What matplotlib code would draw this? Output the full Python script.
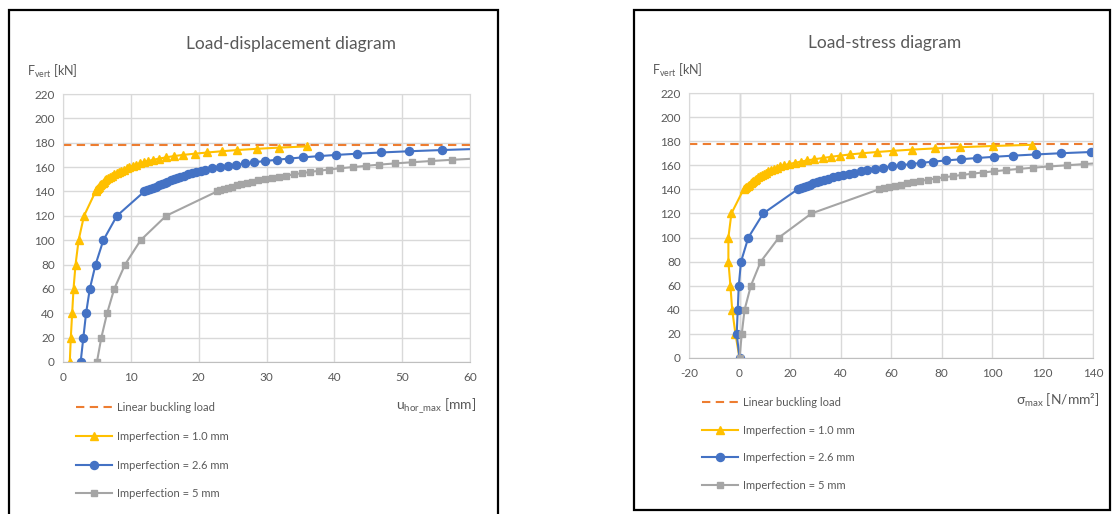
import matplotlib
matplotlib.use("Agg")
import matplotlib.pyplot as plt
from matplotlib.patches import Rectangle

plt.rcParams['font.family'] = ['Lato', 'DejaVu Sans']
plt.rcParams['mathtext.fontset'] = 'custom'
plt.rcParams['mathtext.rm'] = 'Lato'
plt.rcParams['axes.unicode_minus'] = False

# ---- load steps [kN] -------------------------------------------------------
F_10 = [0, 20, 40, 60, 80, 100, 120, 140, 141, 142, 143, 144, 145, 146, 147, 148,
        149, 150, 151, 152, 153, 154, 155, 156, 157, 158, 159, 160, 161, 162, 163,
        164, 165, 166, 167, 168, 169, 170, 171, 172, 173, 174, 175, 176, 177]
F_26 = [0, 20, 40, 60, 80, 100, 120, 140, 141, 142, 143, 144, 145, 146, 147, 148,
        149, 150, 151, 152, 153, 154, 155, 156, 157, 158, 159, 160, 161, 162, 163,
        164, 165, 166, 167, 168, 169, 170, 171, 172, 173, 174, 175]
F_50 = [0, 20, 40, 60, 80, 100, 120, 140, 141, 142, 143, 144, 145, 146, 147, 148,
        149, 150, 151, 152, 153, 154, 155, 156, 157, 158, 159, 160, 161, 162, 163,
        164, 165, 166, 167]

# ---- horizontal displacement u_hor_max [mm] --------------------------------
u_10 = [1.0, 1.15, 1.35, 1.55, 1.85, 2.3, 3.1, 4.8, 4.9, 5.05, 5.2, 5.35, 5.5, 5.65,
        5.85, 6.0, 6.2, 6.4, 6.65, 6.9, 7.2, 7.55, 7.9, 8.25, 8.6, 9.0, 9.4, 9.8,
        10.3, 10.8, 11.3, 11.9, 12.5, 13.3, 14.2, 15.2, 16.3, 17.7, 19.4, 21.3,
        23.4, 25.7, 28.6, 31.9, 36.0]
u_26 = [2.6, 3.0, 3.4, 3.95, 4.8, 5.95, 7.95, 12.0, 12.4, 12.8, 13.2, 13.7, 14.1,
        14.6, 15.0, 15.4, 15.85, 16.3, 16.8, 17.3, 17.8, 18.4, 19.0, 19.6, 20.3,
        21.0, 22.0, 23.1, 24.3, 25.5, 26.8, 28.2, 29.8, 31.5, 33.3, 35.4, 37.7,
        40.3, 43.4, 46.9, 51.0, 55.9, 61.5]
u_50 = [5.0, 5.65, 6.5, 7.55, 9.15, 11.45, 15.2, 22.7, 23.2, 23.7, 24.3, 24.9, 25.6,
        26.3, 27.1, 27.9, 28.8, 29.8, 30.8, 31.8, 32.9, 34.0, 35.2, 36.4, 37.8,
        39.2, 40.8, 42.7, 44.6, 46.6, 48.9, 51.5, 54.3, 57.4, 60.8]

# ---- load steps for the stress diagram [kN] --------------------------------
Fs_10 = F_10
Fs_26 = [0, 20, 40, 60, 80, 100, 120, 140, 141, 142, 143, 144, 145, 146, 147, 148,
         149, 150, 151, 152, 153, 154, 155, 156, 157, 158, 159, 160, 161, 162, 163,
         164, 165, 166, 167, 168, 169, 170, 171, 172]
Fs_50 = [0, 20, 40, 60, 80, 100, 120, 140, 141, 142, 143, 144, 145, 146, 147, 148,
         149, 150, 151, 152, 153, 154, 155, 156, 157, 158, 159, 160, 161, 162]

# ---- max stress sigma_max [N/mm2] ------------------------------------------
s_10 = [0.0, -1.6, -2.9, -3.6, -4.4, -4.4, -3.2, 1.6, 2.1, 2.7, 3.2, 3.8, 4.4, 4.9,
        5.5, 6.1, 6.7, 7.4, 8.1, 8.8, 9.6, 10.5, 11.4, 12.4, 13.5, 14.7, 16.1,
        17.7, 19.6, 21.8, 24.2, 26.8, 29.6, 32.9, 36.2, 39.8, 43.8, 48.7, 54.4,
        60.9, 68.3, 77.4, 87.5, 100.3, 116.0]
s_26 = [0.0, -1.1, -0.7, -0.3, 0.6, 3.5, 9.4, 23.0, 24.3, 25.5, 26.7, 27.9, 29.2,
        30.5, 32.0, 33.5, 35.2, 37.0, 39.0, 41.0, 43.2, 45.5, 48.0, 50.6, 53.7,
        56.7, 60.3, 63.8, 67.8, 72.0, 76.6, 81.9, 87.6, 93.9, 100.6, 108.4, 117.5,
        127.3, 139.1, 152.0]
s_50 = [0.0, 0.9, 2.0, 4.5, 8.4, 15.6, 28.5, 55.2, 57.2, 59.4, 61.6, 63.8, 66.2,
        68.8, 71.6, 74.6, 77.8, 81.0, 84.6, 88.2, 92.1, 96.3, 100.8, 105.5, 110.8,
        116.4, 122.7, 129.6, 136.6, 144.0]

F_cr = 178.0  # linear buckling load [kN]

labels = ["Linear buckling load", "Imperfection = 1.0 mm",
          "Imperfection = 2.6 mm", "Imperfection = 5 mm"]

C_LIN, C_10, C_26, C_50 = "#ED7D31", "#FFC000", "#4472C4", "#A5A5A5"
TXT = "#595959"
GRID = "#D9D9D9"

W, H = 1112, 514
fig = plt.figure(figsize=(W / 100, H / 100), dpi=100)


def fx(px):
    return px / W


def fy(py):
    return 1 - py / H


def style_axes(ax):
    ax.grid(True, color=GRID, linewidth=1.0)
    ax.set_axisbelow(True)
    for sp in ax.spines.values():
        sp.set_color(GRID)
    ax.spines["bottom"].set_color("#BFBFBF")
    ax.tick_params(length=0, colors=TXT, labelsize=8.5)
    ax.tick_params(axis="y", pad=6)
    ax.tick_params(axis="x", pad=7)


def draw_series(ax, xs, lo):
    x10, x26, x50 = xs
    f10, f26, f50 = lo
    h0, = ax.plot(ax.get_xlim(), [F_cr, F_cr], color=C_LIN, lw=1.5,
                  dashes=(4, 2.6), label=labels[0])
    h1, = ax.plot(x10, f10, color=C_10, lw=1.5, marker="^", ms=5.8,
                  label=labels[1])
    h2, = ax.plot(x26, f26, color=C_26, lw=1.5, marker="o", ms=5.8,
                  label=labels[2])
    h3, = ax.plot(x50, f50, color=C_50, lw=1.5, marker="s", ms=5.0,
                  label=labels[3])
    return [h0, h1, h2, h3]


LEG = dict(bbox_transform=fig.transFigure, frameon=False, fontsize=8,
           borderpad=0, borderaxespad=0, handlelength=3.2, handletextpad=0.5,
           labelcolor=TXT, loc="upper left")

# ---- left: load-displacement -----------------------------------------------
ax1 = fig.add_axes([fx(63), fy(362), fx(470 - 63), (362 - 94) / H])
ax1.set_xlim(0, 60)
ax1.set_ylim(0, 220)
ax1.set_xticks(range(0, 61, 10))
ax1.set_yticks(range(0, 221, 20))
style_axes(ax1)
hs = draw_series(ax1, (u_10, u_26, u_50), (F_10, F_26, F_50))
ax1.set_xlim(0, 60)
ax1.legend(hs, labels, bbox_to_anchor=(fx(76), fy(402)), labelspacing=1.6,
           **LEG)

fig.text(fx(291), fy(44), "Load-displacement diagram", ha="center",
         va="center", fontsize=12.5, color=TXT)
fig.text(fx(27), fy(71), r"$\mathregular{F_{vert}}$ [kN]", ha="left",
         va="center", fontsize=9, color=TXT)
fig.text(fx(476), fy(406), r"$\mathregular{u_{hor\_max}}$ [mm]", ha="right",
         va="center", fontsize=10, color=TXT)

# ---- right: load-stress ----------------------------------------------------
ax2 = fig.add_axes([fx(689), fy(358), fx(1093 - 689), (358 - 93) / H])
ax2.set_xlim(-20, 140)
ax2.set_ylim(0, 220)
ax2.set_xticks(range(-20, 141, 20))
ax2.set_yticks(range(0, 221, 20))
style_axes(ax2)
hs = draw_series(ax2, (s_10, s_26, s_50), (Fs_10, Fs_26, Fs_50))
ax2.set_xlim(-20, 140)
ax2.axvline(0, color="#BFBFBF", lw=1.0, zorder=0.5)
ax2.legend(hs, labels, bbox_to_anchor=(fx(702), fy(397)), labelspacing=1.5,
           **LEG)

fig.text(fx(885), fy(43), "Load-stress diagram", ha="center", va="center",
         fontsize=12.5, color=TXT)
fig.text(fx(652), fy(70), r"$\mathregular{F_{vert}}$ [kN]", ha="left",
         va="center", fontsize=9, color=TXT)
fig.text(fx(1100), fy(400), "σ" + r"$\mathregular{_{max}}$ [N/mm²]",
         ha="right", va="center", fontsize=10, color=TXT)

# ---- panel frames ----------------------------------------------------------
fig.patches.append(Rectangle((fx(9), -0.05), fx(498 - 9), fy(10) + 0.05,
                             transform=fig.transFigure, fill=False,
                             edgecolor="black", lw=1.6))
fig.patches.append(Rectangle((fx(634), fy(510)), fx(1110 - 634), (510 - 10) / H,
                             transform=fig.transFigure, fill=False,
                             edgecolor="black", lw=1.6))

fig.savefig("out.png", dpi=100)
